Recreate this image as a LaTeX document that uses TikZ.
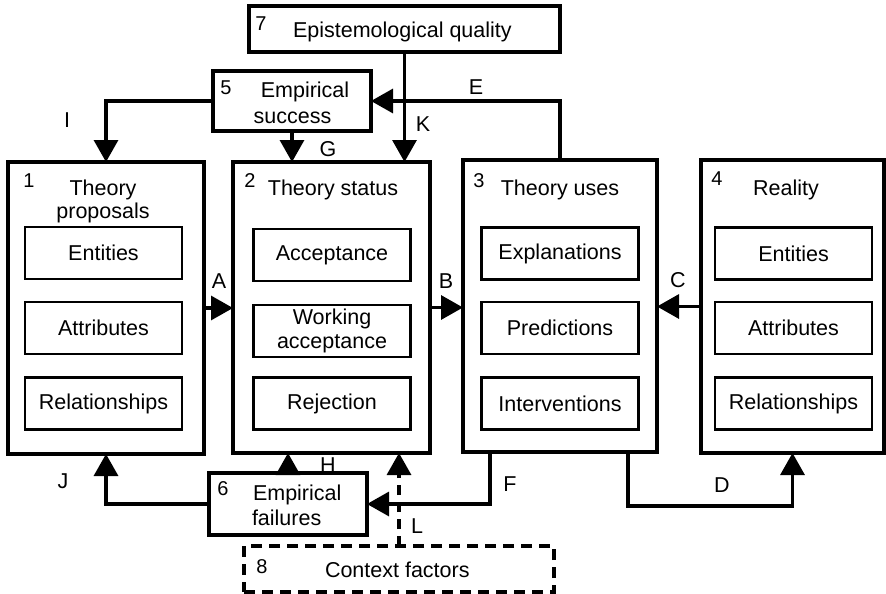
\documentclass[tikz,border=0pt]{standalone}
\usepackage{fontspec}
\setmainfont{Liberation Sans}
\usetikzlibrary{arrows.meta}
\begin{document}
\begin{tikzpicture}[x=1pt,y=-1pt,
  every node/.style={inner sep=0pt,outer sep=0pt,font=\fontsize{21.5}{23.5}\selectfont},
  outerbox/.style={draw,line width=3.2pt,rectangle},
  innerbox/.style={draw,line width=2.2pt,rectangle,minimum width=157pt,minimum height=52pt,align=center},
  tag/.style={anchor=base},
  num/.style={anchor=base,font=\fontsize{20}{22}\selectfont},
  link/.style={line width=3.2pt,-{Triangle[length=22pt,width=24pt]}},
  ctxlink/.style={link,dash pattern=on 10pt off 7pt},
  ctxbox/.style={outerbox,dash pattern=on 11pt off 7pt}
]
\useasboundingbox (0,0) rectangle (886,594);

% main columns
\node[outerbox,minimum width=196pt,minimum height=292pt] (b1) at (106,308) {};
\node[outerbox,minimum width=197pt,minimum height=291pt] (b2) at (331.5,307.5) {};
\node[outerbox,minimum width=194pt,minimum height=292pt] (b3) at (560,306) {};
\node[outerbox,minimum width=183pt,minimum height=293pt] (b4) at (792.5,306.5) {};

% feedback and influence boxes
\node[outerbox,minimum width=158pt,minimum height=60pt] (b5) at (292,101) {};
\node[outerbox,minimum width=158pt,minimum height=62pt] (b6) at (288,504) {};
\node[outerbox,minimum width=311pt,minimum height=46pt] (b7) at (404.5,29) {};
\node[ctxbox,minimum width=310pt,minimum height=46pt] (b8) at (399,569) {};

% column 1: theory proposals
\node[num] (n1) at (29,187) {1};
\node[tag] (t1a) at (103,195) {Theory};
\node[tag] (t1b) at (103,218) {proposals};
\node[innerbox] (p1) at (103.5,253) {Entities};
\node[innerbox] (p2) at (103.5,328) {Attributes};
\node[innerbox] (p3) at (103.5,403.5) {Relationships};

% column 2: theory status
\node[num] (n2) at (250,187) {2};
\node[tag] (t2) at (333,195) {Theory status};
\node[innerbox] (s1) at (332,255) {Acceptance};
\node[innerbox] (s2) at (332,331) {Working\\acceptance};
\node[innerbox] (s3) at (332,403.5) {Rejection};

% column 3: theory uses
\node[num] (n3) at (479,187) {3};
\node[tag] (t3) at (560,195) {Theory uses};
\node[innerbox] (u1) at (560,253.5) {Explanations};
\node[innerbox] (u2) at (560,328) {Predictions};
\node[innerbox] (u3) at (560,403.5) {Interventions};

% column 4: reality
\node[num] (n4) at (717,185) {4};
\node[tag] (t4) at (786,195) {Reality};
\node[innerbox] (r1) at (793.5,253.5) {Entities};
\node[innerbox] (r2) at (793.5,328) {Attributes};
\node[innerbox] (r3) at (793.5,403.5) {Relationships};

% small box texts
\node[num] (n5) at (226,94) {5};
\node[tag] (t5a) at (305,97) {Empirical};
\node[tag] (t5b) at (292.5,123) {success};
\node[num] (n6) at (223,495) {6};
\node[anchor=base west] (t6a) at (253,500) {Empirical};
\node[anchor=base west] (t6b) at (252,525) {failures};
\node[num] (n7) at (261,31) {7};
\node[anchor=base west] (t7) at (293,38) {Epistemological quality};
\node[num] (n8) at (262,573) {8};
\node[anchor=base west] (t8) at (325,577) {Context factors};

% connectors
\draw[link] (b1.east) -- (b1.east -| b2.west);
\draw[link] (b2.east) -- (b2.east -| b3.west);
\draw[link] (b4.west) -- (b4.west -| b3.east);
\coordinate (dbend) at (700,506);
\draw[link] ([xshift=68pt]b3.south) |- (dbend) -| (b4.south);
\draw[link] (b3.north) |- (b5.east);
\draw[link] ([xshift=-70pt]b3.south) |- (b6.east);
\draw[link] (b5.south) -- (b5.south |- b2.north);
\draw[link] (b6.north) -- (b6.north |- b2.south);
\draw[link] (b5.west) -| (b1.north);
\draw[link] (b6.west) -| (b1.south);
\draw[link] (b7.south) -- (b7.south |- b2.north);
\draw[ctxlink] (b8.north) -- (b8.north |- b2.south);

% connector labels
\node[tag] (la) at (219,288) {A};
\node[tag] (lb) at (446,288) {B};
\node[tag] (lc) at (678,287) {C};
\node[tag] (ld) at (722,492) {D};
\node[tag] (le) at (476,95) {E};
\node[tag] (lf) at (510,491) {F};
\node[tag] (lg) at (328,156) {G};
\node[tag] (lh) at (328,472) {H};
\node[tag] (li) at (67,127) {I};
\node[tag] (lj) at (63,488) {J};
\node[tag] (lk) at (423,131) {K};
\node[tag] (ll) at (417,533) {L};
\end{tikzpicture}
\end{document}
